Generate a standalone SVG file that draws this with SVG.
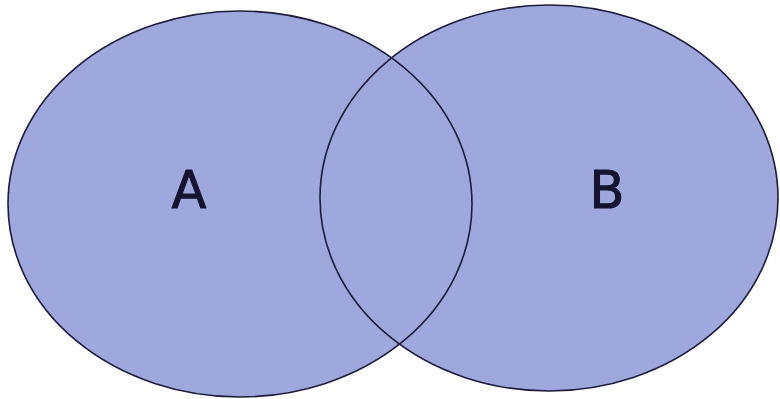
<svg xmlns="http://www.w3.org/2000/svg" width="780" height="399" viewBox="0 0 780 399">
<style>
.set{fill:#9fa8dc;stroke:none}
.outline{fill:none;stroke:#1c1c3c;stroke-width:1.6}
.lbl{font-family:"DejaVu Sans",sans-serif;font-size:51px;fill:#14142e;stroke:#14142e;stroke-width:1;text-anchor:middle}
</style>
<rect width="780" height="399" fill="#ffffff"/>
<g id="setA">
<ellipse class="set" cx="240" cy="204" rx="232" ry="193"/>
<text class="lbl" x="189" y="208">A</text>
</g>
<g id="setB">
<ellipse class="set" cx="549" cy="198" rx="229" ry="193"/>
<text class="lbl" x="607" y="208">B</text>
</g>
<g id="outlines">
<ellipse class="outline" cx="240" cy="204" rx="232" ry="193"/>
<ellipse class="outline" cx="549" cy="198" rx="229" ry="193"/>
</g>
</svg>
